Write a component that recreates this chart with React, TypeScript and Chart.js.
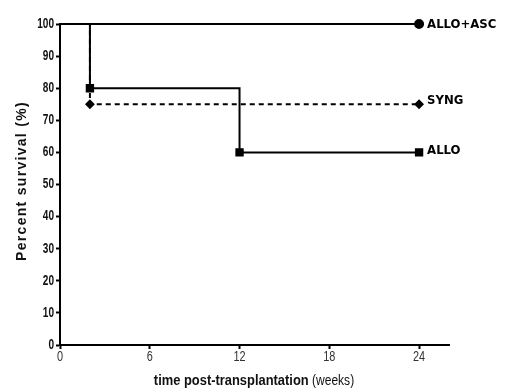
import React, { useEffect, useRef } from "react";
import { Chart, registerables } from "chart.js";

Chart.register(...registerables);

const xTicks = [0, 6, 12, 18, 24];
const yTicks = [0, 10, 20, 30, 40, 50, 60, 70, 80, 90, 100];

const alloAscWeeks = [0, 24];
const alloAscSurvival = [100, 100];

const syngWeeks = [0, 2, 24];
const syngSurvival = [100, 75, 75];

const alloWeeks = [0, 2, 12, 24];
const alloSurvival = [100, 80, 60, 60];

const seriesLabels = ["ALLO+ASC", "SYNG", "ALLO"];

const pts = (xs: number[], ys: number[]) => xs.map((x, i) => ({ x, y: ys[i] }));

function narrowText(ctx: any, text: string, x: number, y: number, align: string, sx: number) {
  ctx.save();
  ctx.translate(x, y);
  ctx.scale(sx, 1);
  ctx.textAlign = align;
  ctx.fillText(text, 0, 0);
  ctx.restore();
}

export default function App() {
  const ref = useRef<HTMLCanvasElement>(null);
  useEffect(() => {
    const labelPlugin = {
      id: "labels",
      afterDatasetsDraw(chart: any) {
        const { ctx, scales } = chart;
        const xs = scales.x;
        const ys = scales.y;
        ctx.save();
        ctx.fillStyle = "#000";
        ctx.font = "bold 13px 'DejaVu Sans Condensed', 'DejaVu Sans'";
        ctx.textBaseline = "middle";
        ctx.textAlign = "left";
        const dys = [1, -4, -2];
        chart.data.datasets.forEach((ds: any, i: number) => {
          const last = ds.data[ds.data.length - 1];
          ctx.fillText(seriesLabels[i], xs.getPixelForValue(last.x) + 8, ys.getPixelForValue(last.y) + dys[i]);
        });
        // y tick labels
        ctx.fillStyle = "#111";
        ctx.font = "bold 14px 'Liberation Sans', Arial";
        yTicks.forEach((v) => {
          narrowText(ctx, String(v), 54, ys.getPixelForValue(v), "right", 0.72);
        });
        // x tick labels
        ctx.fillStyle = "#333";
        ctx.font = "14px 'Liberation Sans', Arial";
        ctx.textBaseline = "top";
        xTicks.forEach((v) => {
          narrowText(ctx, String(v), xs.getPixelForValue(v), 350, "center", 0.78);
        });
        // y title
        ctx.save();
        ctx.textBaseline = "middle";
        ctx.translate(22, 181);
        ctx.rotate(-Math.PI / 2);
        ctx.textAlign = "center";
        ctx.font = "bold 14px 'Liberation Sans', Arial";
        (ctx as any).letterSpacing = "1.3px";
        ctx.fillStyle = "#111";
        ctx.fillText("Percent survival (%)", 0, 0);
        ctx.restore();
        // x title
        const bold = "time post-transplantation";
        const reg = " (weeks)";
        const sx = 0.86;
        ctx.textBaseline = "middle";
        ctx.font = "bold 15px 'Liberation Sans', Arial";
        const wb = ctx.measureText(bold).width * sx;
        ctx.font = "14px 'Liberation Sans', Arial";
        const wr = ctx.measureText(reg).width * sx;
        const cx = 254;
        const start = cx - (wb + wr) / 2;
        ctx.fillStyle = "#111";
        ctx.font = "bold 15px 'Liberation Sans', Arial";
        narrowText(ctx, bold, start, 381, "left", sx);
        ctx.font = "14px 'Liberation Sans', Arial";
        narrowText(ctx, reg, start + wb, 381, "left", sx);
        ctx.restore();
      },
    };
    const chart = new Chart(ref.current!, {
      type: "line",
      data: {
        datasets: [
          {
            label: seriesLabels[0],
            data: pts(alloAscWeeks, alloAscSurvival),
            borderColor: "#000",
            backgroundColor: "#000",
            borderWidth: 2,
            stepped: "before",
            pointStyle: "circle",
            pointRadius: [0, 4],
            clip: false as any,
          },
          {
            label: seriesLabels[1],
            data: pts(syngWeeks, syngSurvival),
            borderColor: "#000",
            backgroundColor: "#000",
            borderWidth: 2,
            borderDash: [5, 4],
            stepped: "before",
            pointStyle: "rectRot",
            pointRadius: [0, 3.5, 3.5],
            clip: false as any,
          },
          {
            label: seriesLabels[2],
            data: pts(alloWeeks, alloSurvival),
            borderColor: "#000",
            backgroundColor: "#000",
            borderWidth: 2,
            stepped: "before",
            pointStyle: "rect",
            pointRadius: [0, 4.5, 4.5, 4.5],
            clip: false as any,
          },
        ],
      },
      options: {
        animation: false,
        responsive: false,
        events: [],
        layout: { padding: { left: 0, top: 24, right: 56, bottom: 0 } },
        plugins: { legend: { display: false }, tooltip: { enabled: false } },
        scales: {
          x: {
            type: "linear",
            min: 0,
            max: 26,
            afterBuildTicks: (s: any) => {
              s.ticks = xTicks.map((v) => ({ value: v }));
            },
            afterFit: (s: any) => {
              s.height = 47;
            },
            border: { color: "#000", width: 2 },
            grid: { drawOnChartArea: false, color: "#000", tickLength: 4, tickWidth: 2 },
            ticks: { display: false },
          },
          y: {
            min: 0,
            max: 100,
            afterBuildTicks: (s: any) => {
              s.ticks = yTicks.map((v) => ({ value: v }));
            },
            afterFit: (s: any) => {
              s.width = 60;
            },
            border: { color: "#000", width: 2 },
            grid: { drawOnChartArea: false, color: "#000", tickLength: 4, tickWidth: 2 },
            ticks: { display: false },
          },
        },
      },
      plugins: [labelPlugin],
    } as any);
    return () => chart.destroy();
  }, []);
  return (
    <div style={{ position: "fixed", left: 0, top: 0, width: 505, height: 392, background: "#fff" }}>
      <canvas ref={ref} width={505} height={392} style={{ display: "block" }} />
    </div>
  );
}
